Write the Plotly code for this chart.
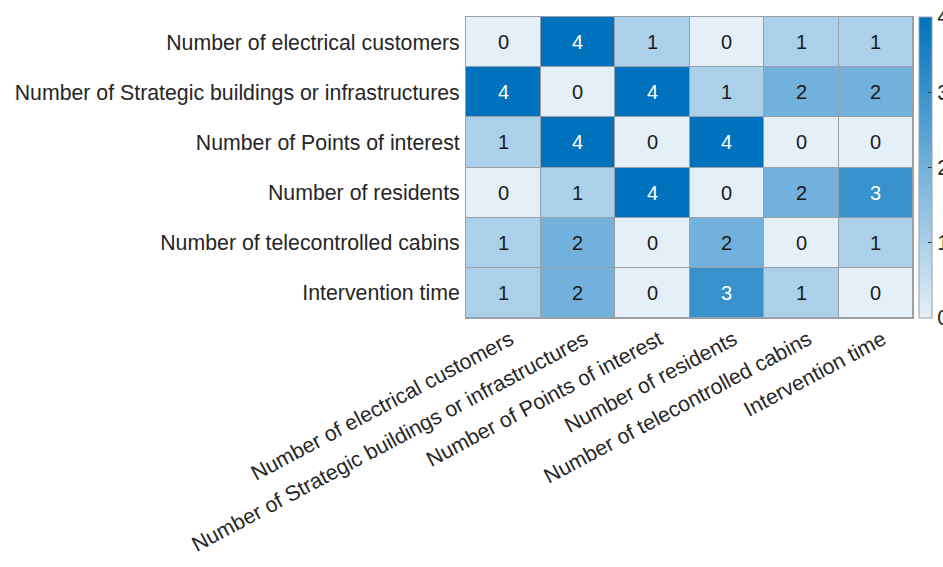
import plotly.graph_objects as go

# Criteria compared pairwise (rows and columns share the same order)
criteria = [
    "Number of electrical customers",
    "Number of Strategic buildings or infrastructures",
    "Number of Points of interest",
    "Number of residents",
    "Number of telecontrolled cabins",
    "Intervention time",
]

# Scores per row criterion against each column criterion
row_electrical = [0, 4, 1, 0, 1, 1]
row_strategic = [4, 0, 4, 1, 2, 2]
row_points = [1, 4, 0, 4, 0, 0]
row_residents = [0, 1, 4, 0, 2, 3]
row_cabins = [1, 2, 0, 2, 0, 1]
row_intervention = [1, 2, 0, 3, 1, 0]

z = [row_electrical, row_strategic, row_points, row_residents, row_cabins, row_intervention]
colorbar_ticks = [0, 1, 2, 3, 4]

FONT = "Liberation Sans, Arial, Helvetica, sans-serif"
GRID = "#9aa0a6"
LABEL_SIZE = 21.3

fig = go.Figure(
    go.Heatmap(
        z=z,
        x=criteria,
        y=criteria,
        zmin=0,
        zmax=4,
        colorscale=[[0, "rgb(228,239,248)"], [1, "rgb(0,114,189)"]],
        xgap=1,
        ygap=1,
        hoverongaps=False,
        colorbar=dict(
            x=1.0134,
            xanchor="left",
            y=0.5,
            yanchor="middle",
            len=1,
            lenmode="fraction",
            thickness=13,
            outlinecolor=GRID,
            outlinewidth=1,
            tickvals=colorbar_ticks,
            ticks="inside",
            ticklen=4,
            tickcolor="#333333",
            tickfont=dict(family=FONT, size=LABEL_SIZE, color="#262626"),
            ypad=0,
            xpad=0,
        ),
    )
)

# Value labels inside each cell
annotations = []
for r, row in enumerate(z):
    for c, v in enumerate(row):
        annotations.append(
            dict(
                x=criteria[c],
                y=criteria[r],
                text=str(v),
                showarrow=False,
                font=dict(family=FONT, size=20, color="white" if v >= 3 else "#1a1a1a"),
            )
        )

fig.update_layout(
    width=943,
    height=567,
    margin=dict(l=466, r=30, t=17, b=249, autoexpand=False),
    paper_bgcolor="white",
    plot_bgcolor=GRID,
    annotations=annotations,
    font=dict(family=FONT, size=LABEL_SIZE, color="#262626"),
    xaxis=dict(
        tickangle=-28,
        showgrid=False,
        zeroline=False,
        showline=True,
        linecolor=GRID,
        mirror=True,
        ticks="",
        automargin=False,
        ticklabelshift=7,
        tickfont=dict(family=FONT, size=LABEL_SIZE, color="#262626"),
    ),
    yaxis=dict(
        autorange="reversed",
        showgrid=False,
        zeroline=False,
        showline=True,
        linecolor=GRID,
        mirror=True,
        ticks="",
        automargin=False,
        ticklabelstandoff=1,
        tickfont=dict(family=FONT, size=LABEL_SIZE, color="#262626"),
    ),
)

fig.write_html("out.html")
